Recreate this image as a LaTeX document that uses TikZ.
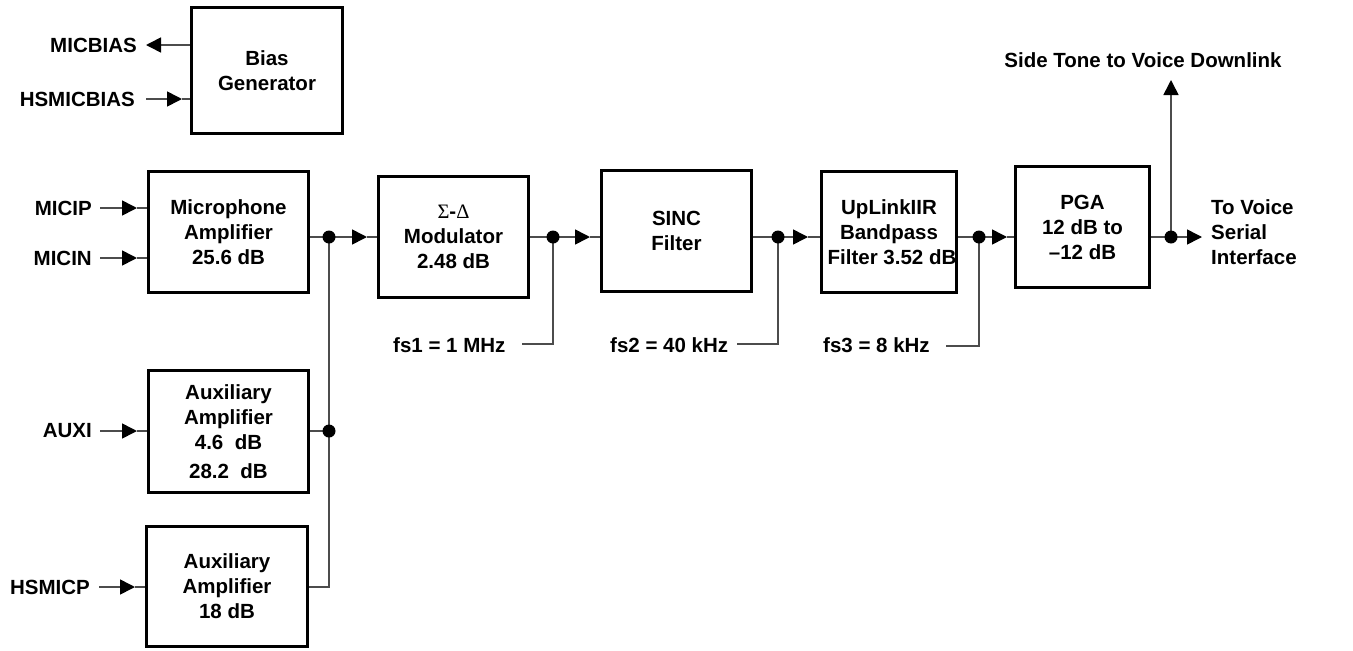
\documentclass[tikz,border=0pt]{standalone}
\usepackage{fontspec}
\setmainfont{Liberation Sans}
\newfontfamily\grk{Liberation Serif}
\usetikzlibrary{arrows.meta}
\begin{document}
\begin{tikzpicture}[x=1pt,y=-1pt,
  txt/.style={font=\bfseries\fontsize{20.5}{25}\selectfont},
  box/.style={txt, draw, line width=3.5pt, inner sep=0pt, align=center},
  lbl/.style={txt, inner sep=0pt},
  wire/.style={line width=1.6pt, draw=black!70},
  arr/.style={wire, -{Triangle[length=15pt,width=15pt,color=black]}},
  dot/.style={circle, fill=black, inner sep=0pt, minimum size=13pt}]
\useasboundingbox (0,0) rectangle (1353,651);

% blocks
\node[box, minimum width=151pt, minimum height=126pt] (bias) at (267,70.5) {Bias\\Generator};
\node[box, minimum width=160pt, minimum height=121pt] (mic) at (228.5,232) {Microphone\\Amplifier\\25.6 dB};
\node[box, minimum width=160pt, minimum height=122pt] (aux1) at (228.5,431.5) {Auxiliary\\Amplifier\\4.6~ dB\\[4pt]28.2~ dB};
\node[box, minimum width=161pt, minimum height=120pt] (aux2) at (227,586.5) {Auxiliary\\Amplifier\\18 dB};
\node[box, minimum width=150pt, minimum height=121pt] (mod) at (453.5,237) {{\grk\mdseries Σ}-{\grk\mdseries Δ}\\Modulator\\2.48 dB};
\node[box, minimum width=150pt, minimum height=121pt] (sinc) at (676.5,231) {SINC\\Filter};
\node[box, minimum width=135pt, minimum height=121pt] (upl) at (889,232) {UpLinkIIR\\Bandpass\\\hspace*{6pt}Filter 3.52 dB};
\node[box, minimum width=134pt, minimum height=121pt] (pga) at (1082.5,227) {PGA\\12 dB to\\–12 dB};

% labels
\node[lbl, anchor=east] (micbias) at (137,45) {MICBIAS};
\node[lbl, anchor=east] (hsmicbias) at (135,99) {HSMICBIAS};
\node[lbl, anchor=east] (micip) at (92,208) {MICIP};
\node[lbl, anchor=east] (micin) at (92,258) {MICIN};
\node[lbl, anchor=east] (auxi) at (92,431) {AUXI};
\node[lbl, anchor=east] (hsmicp) at (90,587) {HSMICP};
\node[lbl, anchor=west] (fs1) at (393,345) {fs1 = 1 MHz};
\node[lbl, anchor=west] (fs2) at (610,345) {fs2 = 40 kHz};
\node[lbl, anchor=west] (fs3) at (823,345) {fs3 = 8 kHz};
\node[lbl] (side) at (1143,60) {Side Tone to Voice Downlink};
\node[lbl, anchor=west, align=left] (vsi) at (1211,232) {To Voice\\Serial\\Interface};

% junctions and arrow tips
\coordinate (j1) at (329,237);
\coordinate (j2) at (553,237);
\coordinate (j3) at (778,237);
\coordinate (j4) at (979,237);
\coordinate (j5) at (1171,237);
\coordinate (jx) at (329,431);
\coordinate (a1) at (367,237);
\coordinate (a2) at (590,237);
\coordinate (a3) at (808,237);
\coordinate (a4) at (1007,237);
\coordinate (a5) at (1202,237);
\coordinate (st) at (1171,80);
\coordinate (mb) at (146,45);
\coordinate (hb0) at (146,99);
\coordinate (hb) at (182,99);
\coordinate (ip0) at (100,208);
\coordinate (ip) at (137,208);
\coordinate (in0) at (100,258);
\coordinate (in) at (137,258);
\coordinate (ax0) at (100,431);
\coordinate (ax) at (137,431);
\coordinate (hp0) at (99,587);
\coordinate (hp) at (135,587);
\coordinate (f1) at (522,344);
\coordinate (f2) at (737,344);
\coordinate (f3) at (946,346);

% bias connections
\draw[arr] (bias.west |- mb) -- (mb);
\draw[arr] (hb0) -- (hb);
\draw[wire] (hb) -- (bias.west |- hb);

% inputs
\draw[arr] (ip0) -- (ip); \draw[wire] (ip) -- (mic.west |- ip);
\draw[arr] (in0) -- (in); \draw[wire] (in) -- (mic.west |- in);
\draw[arr] (ax0) -- (ax); \draw[wire] (ax) -- (aux1.west |- ax);
\draw[arr] (hp0) -- (hp); \draw[wire] (hp) -- (aux2.west |- hp);

% summing bus
\draw[wire] (mic.east |- j1) -- (j1);
\draw[wire] (aux1.east |- jx) -- (jx);
\draw[wire] (j1) |- (aux2.east |- hp);

% main chain
\draw[arr] (j1) -- (a1); \draw[wire] (a1) -- (mod.west |- a1);
\draw[wire] (mod.east |- j2) -- (j2);
\draw[arr] (j2) -- (a2); \draw[wire] (a2) -- (sinc.west |- a2);
\draw[wire] (sinc.east |- j3) -- (j3);
\draw[arr] (j3) -- (a3); \draw[wire] (a3) -- (upl.west |- a3);
\draw[wire] (upl.east |- j4) -- (j4);
\draw[arr] (j4) -- (a4); \draw[wire] (a4) -- (pga.west |- a4);
\draw[wire] (pga.east |- j5) -- (j5);
\draw[arr] (j5) -- (a5);
\draw[arr] (j5) -- (st);

% clock lines
\draw[wire] (f1) -| (j2);
\draw[wire] (f2) -| (j3);
\draw[wire] (f3) -| (j4);

% dots
\foreach \p in {j1,j2,j3,j4,j5,jx} \node[dot] at (\p) {};
\end{tikzpicture}
\end{document}
